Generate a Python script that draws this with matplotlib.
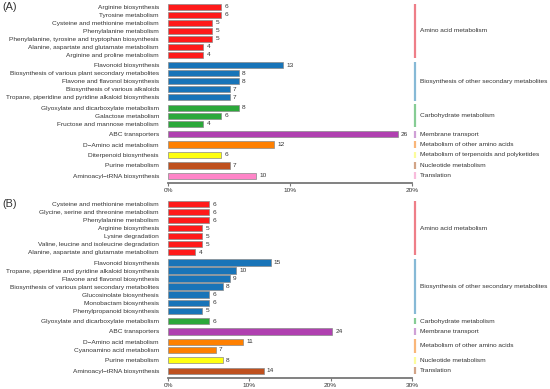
import matplotlib
matplotlib.use('Agg')
import matplotlib.pyplot as plt
import matplotlib.transforms as mtransforms

plt.rcParams['font.family'] = ['Liberation Sans', 'DejaVu Sans']

# ---- data: panel A ----
a_groups = ['Amino acid metabolism',
            'Biosynthesis of other secondary metabolites',
            'Carbohydrate metabolism',
            'Membrane transport',
            'Metabolism of other amino acids',
            'Metabolism of terpenoids and polyketides',
            'Nucleotide metabolism',
            'Translation']
a_terms = [
    ['Arginine biosynthesis', 'Tyrosine metabolism', 'Cysteine and methionine metabolism',
     'Phenylalanine metabolism', 'Phenylalanine, tyrosine and tryptophan biosynthesis',
     'Alanine, aspartate and glutamate metabolism', 'Arginine and proline metabolism'],
    ['Flavonoid biosynthesis', 'Biosynthesis of various plant secondary metabolites',
     'Flavone and flavonol biosynthesis', 'Biosynthesis of various alkaloids',
     'Tropane, piperidine and pyridine alkaloid biosynthesis'],
    ['Glyoxylate and dicarboxylate metabolism', 'Galactose metabolism',
     'Fructose and mannose metabolism'],
    ['ABC transporters'],
    ['D\u2212Amino acid metabolism'],
    ['Diterpenoid biosynthesis'],
    ['Purine metabolism'],
    ['Aminoacyl\u2212tRNA biosynthesis'],
]
a_counts = [[6, 6, 5, 5, 5, 4, 4], [13, 8, 8, 7, 7], [8, 6, 4], [26], [12], [6], [7], [10]]
a_total = 138
a_ticks = [0, 10, 20]

# ---- data: panel B ----
b_groups = ['Amino acid metabolism',
            'Biosynthesis of other secondary metabolites',
            'Carbohydrate metabolism',
            'Membrane transport',
            'Metabolism of other amino acids',
            'Nucleotide metabolism',
            'Translation']
b_terms = [
    ['Cysteine and methionine metabolism', 'Glycine, serine and threonine metabolism',
     'Phenylalanine metabolism', 'Arginine biosynthesis', 'Lysine degradation',
     'Valine, leucine and isoleucine degradation', 'Alanine, aspartate and glutamate metabolism'],
    ['Flavonoid biosynthesis', 'Tropane, piperidine and pyridine alkaloid biosynthesis',
     'Flavone and flavonol biosynthesis', 'Biosynthesis of various plant secondary metabolites',
     'Glucosinolate biosynthesis', 'Monobactam biosynthesis', 'Phenylpropanoid biosynthesis'],
    ['Glyoxylate and dicarboxylate metabolism'],
    ['ABC transporters'],
    ['D\u2212Amino acid metabolism', 'Cyanoamino acid metabolism'],
    ['Purine metabolism'],
    ['Aminoacyl\u2212tRNA biosynthesis'],
]
b_counts = [[6, 6, 6, 5, 5, 5, 4], [15, 10, 9, 8, 6, 6, 5], [6], [24], [11, 7], [8], [14]]
b_total = 119
b_ticks = [0, 10, 20, 30]

bar_colors = ['#FF1A1A', '#1874B8', '#2BA83A', '#B040B0', '#FF8000', '#FFFF10', '#BF501E', '#FF85C8']
line_colors = ['#EE7E88', '#86B9D6', '#86CC94', '#CFA0D6', '#F9B679', '#FCFC9C', '#D2A487', '#F8BCDC']

GAP = 0.3
W, H = 550, 389
FS = 4.65


def draw_panel(ax, groups, terms, counts, total, ticks, tag):
    pos, labels, vals, cols = [], [], [], []
    spans = []
    y = 0.0
    for gi, (names, cnts) in enumerate(zip(terms, counts)):
        start = y
        for name, c in zip(names, cnts):
            pos.append(y)
            labels.append(name)
            vals.append(c)
            cols.append(bar_colors[gi])
            y += 1
        spans.append((start, y - 1))
        y += GAP
    pct = [v / total * 100 for v in vals]

    ax.barh(pos, pct, height=0.78, color=cols, edgecolor='#8a8a8a', linewidth=0.5)
    for p, v, c in zip(pos, pct, vals):
        ax.text(v + ticks[-1] * 0.013, p, str(c), va='center', ha='left',
                fontsize=FS, color='#333333')

    ax.set_yticks(pos)
    ax.set_yticklabels(labels, fontsize=FS, color='#333333')
    ax.set_ylim(pos[-1] + 0.9, -0.55)
    ax.set_xlim(0, ticks[-1])
    ax.set_xticks(ticks)
    ax.set_xticklabels([f'{t}%' for t in ticks], fontsize=FS, color='#333333')
    ax.tick_params(axis='y', length=0, pad=6.5)
    ax.tick_params(axis='x', length=2, width=0.8, color='#777777', pad=1.5)
    for s in ['top', 'right', 'left']:
        ax.spines[s].set_visible(False)
    ax.spines['bottom'].set_color('#777777')
    ax.spines['bottom'].set_linewidth(1.3)

    trans = mtransforms.blended_transform_factory(ax.transAxes, ax.transData)
    for gi, (g, (s0, s1)) in enumerate(zip(groups, spans)):
        ax.plot([1.014, 1.014], [s0 - 0.42, s1 + 0.42], transform=trans,
                color=line_colors[gi], lw=1.6, clip_on=False, solid_capstyle='butt')
        ax.text(1.032, (s0 + s1) / 2, g, transform=trans, va='center', ha='left',
                fontsize=FS, color='#333333')

    ax.text(-0.68, 0.0, tag, transform=trans, va='center', ha='left',
            fontsize=7.8, color='#333333')


fig = plt.figure(figsize=(W / 100, H / 100), dpi=100)
ax_a = fig.add_axes([168 / W, 1 - 183 / H, 244 / W, 180.5 / H])
ax_b = fig.add_axes([168 / W, 1 - 378 / H, 244 / W, 178.4 / H])

draw_panel(ax_a, a_groups, a_terms, a_counts, a_total, a_ticks, '(A)')
draw_panel(ax_b, b_groups, b_terms, b_counts, b_total, b_ticks, '(B)')

fig.savefig('out.png', dpi=100)
